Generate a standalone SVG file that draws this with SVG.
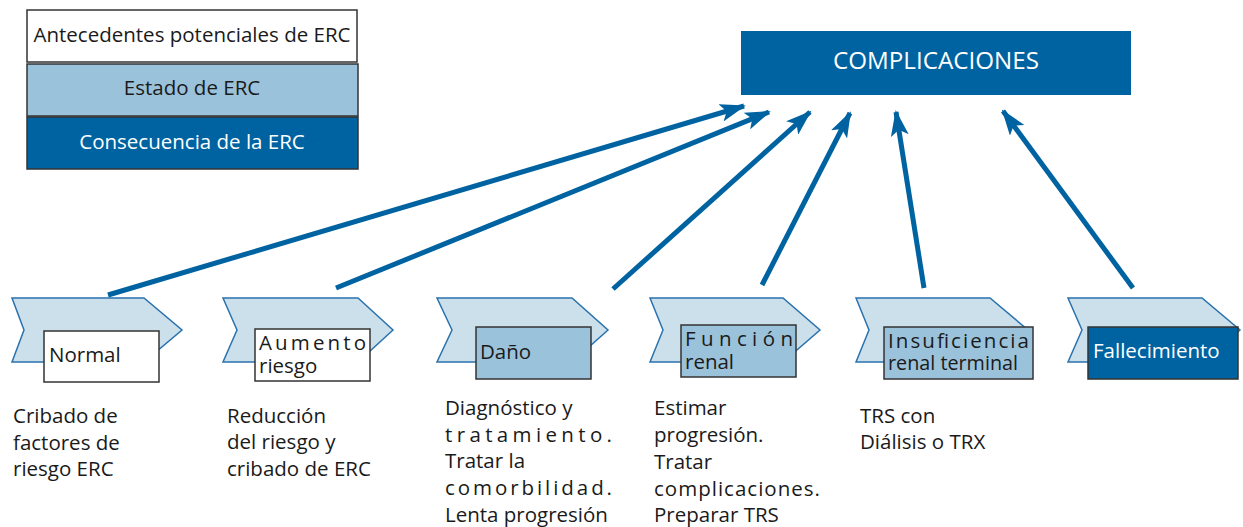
<svg xmlns="http://www.w3.org/2000/svg" width="1243" height="527" viewBox="0 0 1243 527">
  <defs>
    <style>
      text { font-family: "Open Sans", "Liberation Sans", sans-serif; font-size: 20.5px; fill: #1a1a1a; }
      .light { fill: #ffffff; }
      .chev { fill: #cce0ec; stroke: #2a72ad; stroke-width: 1.5; }
      .box-white { fill: #ffffff; stroke: #333333; stroke-width: 1.5; }
      .box-mid { fill: #9bc2db; stroke: #333333; stroke-width: 1.5; }
      .box-dark { fill: #0063a1; stroke: #333333; stroke-width: 1.5; }
      .link { stroke: #0063a1; stroke-width: 5; fill: none; marker-end: url(#head); }
    </style>
    <marker id="head" viewBox="0 0 26 18" refX="24" refY="9" markerWidth="26" markerHeight="18" markerUnits="userSpaceOnUse" orient="auto">
      <path d="M0,0 L26,9 L0,18 L6,9 Z" fill="#0063a1"/>
    </marker>
  </defs>

  <!-- legend -->
  <g id="legend">
    <rect x="27" y="10" width="330" height="52" class="box-white"/>
    <text x="192" y="42" text-anchor="middle">Antecedentes potenciales de ERC</text>
    <rect x="27" y="64" width="331" height="52" class="box-mid"/>
    <text x="192" y="95" text-anchor="middle">Estado de ERC</text>
    <rect x="27" y="117" width="331" height="52" class="box-dark"/>
    <text x="192" y="149" text-anchor="middle" class="light">Consecuencia de la ERC</text>
  </g>

  <!-- outcome box -->
  <g id="complicaciones">
    <rect x="741" y="31" width="390" height="64" fill="#0063a1"/>
    <text x="833" y="69" class="light" style="font-size:24px" textLength="206" lengthAdjust="spacingAndGlyphs">COMPLICACIONES</text>
  </g>

  <!-- stages -->
  <g id="normal">
    <polygon class="chev" points="12,298 144,298 182,330 144,362 12,362 24,330"/>
    <rect x="44" y="331" width="115" height="51" class="box-white"/>
    <text x="49" y="362">Normal</text>
  </g>
  <g id="aumento-riesgo">
    <polygon class="chev" points="223,298 358,298 393,330 358,362 223,362 237,330"/>
    <rect x="255" y="329" width="115" height="52" class="box-white"/>
    <text x="259" y="350" textLength="107" lengthAdjust="spacing">Aumento</text>
    <text x="259" y="373">riesgo</text>
  </g>
  <g id="dano">
    <polygon class="chev" points="437,298 572,298 608,330 572,362 437,362 452,330"/>
    <rect x="476" y="327" width="115" height="52" class="box-mid"/>
    <text x="480" y="359">Daño</text>
  </g>
  <g id="funcion-renal">
    <polygon class="chev" points="650,298 783,298 820,330 783,362 650,362 663,330"/>
    <rect x="681" y="325" width="115" height="52" class="box-mid"/>
    <text x="685" y="346" textLength="108" lengthAdjust="spacing">Función</text>
    <text x="685" y="369">renal</text>
  </g>
  <g id="insuficiencia">
    <polygon class="chev" points="856,298 990,298 1028,330 990,362 856,362 869,330"/>
    <rect x="884" y="327" width="149" height="52" class="box-mid"/>
    <text x="888" y="348" textLength="141" lengthAdjust="spacing">Insuficiencia</text>
    <text x="888" y="370" textLength="130" lengthAdjust="spacingAndGlyphs">renal terminal</text>
  </g>
  <g id="fallecimiento">
    <polygon class="chev" points="1068,298 1202,298 1240,330 1202,362 1068,362 1082,330"/>
    <rect x="1088" y="327" width="150" height="52" class="box-dark"/>
    <text x="1093" y="358" class="light">Fallecimiento</text>
  </g>

  <!-- arrows into the outcome box -->
  <g id="connectors">
    <line class="link" x1="108" y1="295" x2="744" y2="106"/>
    <line class="link" x1="336" y1="288" x2="769" y2="112"/>
    <line class="link" x1="613" y1="289" x2="810" y2="112"/>
    <line class="link" x1="762" y1="285" x2="850" y2="113"/>
    <line class="link" x1="924" y1="288" x2="896" y2="112"/>
    <line class="link" x1="1133" y1="288" x2="1003" y2="111"/>
  </g>

  <!-- actions per stage -->
  <g id="acciones">
    <text x="13" y="423">Cribado de</text>
    <text x="13" y="450">factores de</text>
    <text x="13" y="476">riesgo ERC</text>

    <text x="227" y="423">Reducción</text>
    <text x="227" y="449">del riesgo y</text>
    <text x="227" y="476">cribado de ERC</text>

    <text x="445" y="415">Diagnóstico y</text>
    <text x="445" y="442" textLength="167" lengthAdjust="spacing">tratamiento.</text>
    <text x="445" y="468">Tratar la</text>
    <text x="445" y="495" textLength="167" lengthAdjust="spacing">comorbilidad.</text>
    <text x="445" y="522">Lenta progresión</text>

    <text x="654" y="415">Estimar</text>
    <text x="654" y="442">progresión.</text>
    <text x="654" y="469">Tratar</text>
    <text x="654" y="496" textLength="166" lengthAdjust="spacing">complicaciones.</text>
    <text x="654" y="522">Preparar TRS</text>

    <text x="860" y="423">TRS con</text>
    <text x="860" y="449">Diálisis o TRX</text>
  </g>
</svg>
